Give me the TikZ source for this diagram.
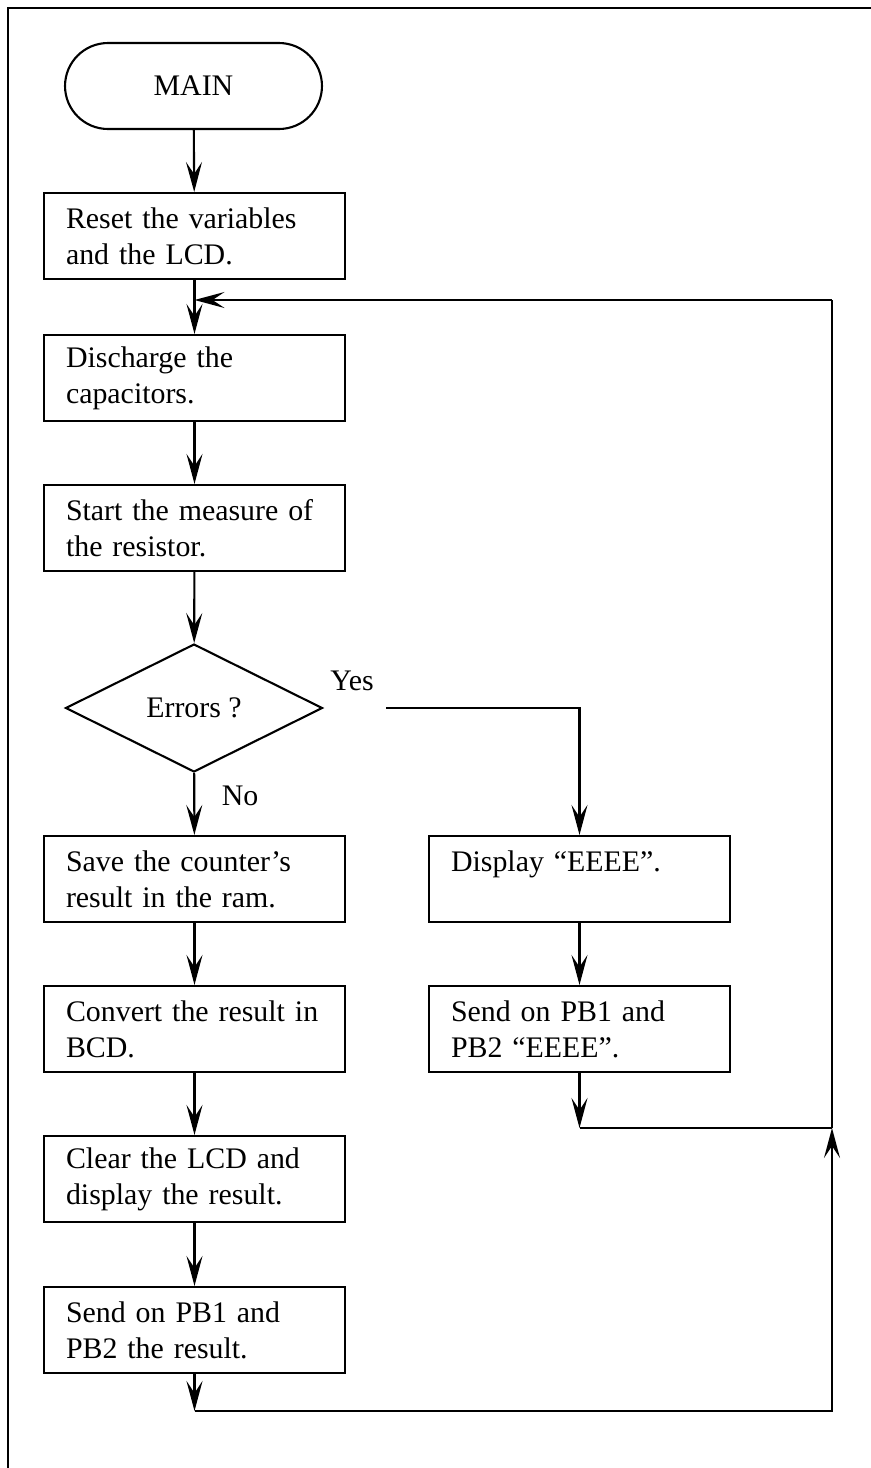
\documentclass[tikz,border=0pt]{standalone}
\usepackage{fontspec}
\setmainfont{Liberation Serif}
\usetikzlibrary{shapes.geometric,shapes.misc,arrows.meta}

\tikzset{
  flow/.style={-{Stealth[length=0.6cm,width=0.32cm,inset=0.24cm]}},
  stepbox/.style={draw, minimum width=6.02cm, minimum height=1.72cm,
    text width=5.14cm, align=left, inner sep=0pt},
  termbox/.style={draw, rounded rectangle, minimum width=5.14cm,
    minimum height=1.72cm, inner sep=0pt},
  testbox/.style={draw, diamond, aspect=2, minimum width=5.14cm,
    minimum height=2.56cm, inner sep=0pt},
}

\begin{document}
\begin{tikzpicture}[x=0.02cm,y=-0.02cm,line width=1.2pt,
  font=\fontsize{17}{20.5}\selectfont]
\useasboundingbox (0,0) rectangle (871,1468);
% cadre
\draw (871,8) -- (8,8) -- (8,1468);

% colonne principale
\node[termbox] (main) at (193.5,86) {MAIN};
\node[stepbox] (reset) at (194.5,236) {Reset the variables\\and the LCD.};
\node[stepbox] (discharge) at (194.5,378) {Discharge the\\capacitors.};
\node[stepbox] (start) at (194.5,528) {Start the measure of\\the resistor.};
\node[testbox] (errors) at (194,708) {Errors ?};
\node[stepbox] (save) at (194.5,879) {Save the counter's\\result in the ram.};
\node[stepbox] (convert) at (194.5,1029) {Convert the result in\\BCD.};
\node[stepbox] (clear) at (194.5,1179) {Clear the LCD and\\display the result.};
\node[stepbox] (sendres) at (194.5,1330) {Send on PB1 and\\PB2 the result.};

% branche erreur
\node[stepbox] (display) at (579.5,879) {Display ``EEEE''.\\\mbox{}};
\node[stepbox] (sende) at (579.5,1029) {Send on PB1 and\\PB2 ``EEEE''.};

\node (yes) at (352,681) {Yes};
\node (no) at (240,796) {No};

\coordinate (ys) at (386,708);
\coordinate (el) at (579.5,1128);
\coordinate (jr) at (832,1128);
\coordinate (bl) at (194.5,1411);
\coordinate (br) at (832,1411);
\coordinate (tr) at (832,300);
\coordinate (tl) at (194.5,300);

% connexions
\draw[flow] (main) -- (reset);
\draw[flow] (reset) -- (discharge);
\draw[flow] (discharge) -- (start);
\draw[flow] (start) -- (errors);
\draw[flow] (errors) -- (save);
\draw[flow] (save) -- (convert);
\draw[flow] (convert) -- (clear);
\draw[flow] (clear) -- (sendres);
\draw[flow] (ys) -| (display);
\draw[flow] (display) -- (sende);
\draw[flow] (sende) -- (el);
\draw (el) -- (jr);

% retour
\draw[flow] (sendres) -- (bl);
\draw[flow] (bl) -- (br) -- (jr);
\draw (jr) -- (tr);
\draw[flow] (tr) -- (tl);
\end{tikzpicture}
\end{document}
